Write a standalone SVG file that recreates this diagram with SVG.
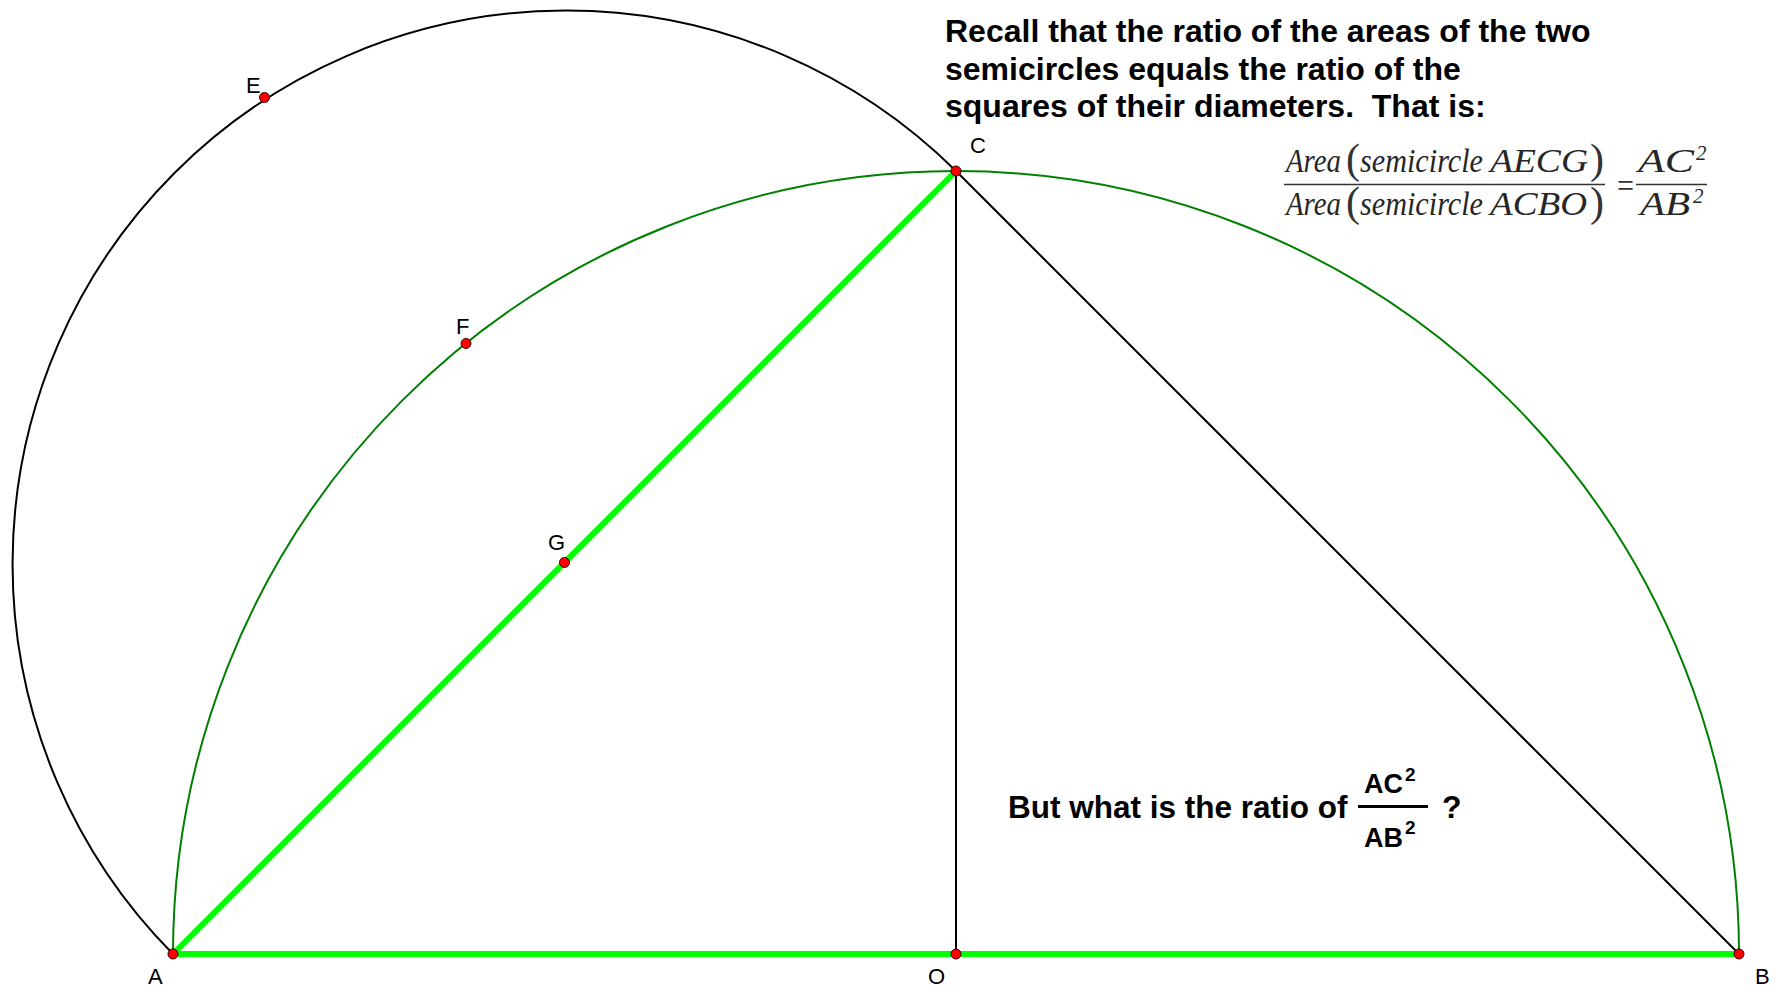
<svg xmlns="http://www.w3.org/2000/svg" width="1776" height="997" viewBox="0 0 1776 997">
<style>
.lbl{font-family:"Liberation Sans",Arial,sans-serif;font-size:22px;fill:#000}
.bold{font-family:"Liberation Sans",Arial,sans-serif;font-weight:bold;fill:#000}
.mth{font-family:"Liberation Serif","Times New Roman",serif;font-style:italic;fill:#262626}
.par{font-family:"Liberation Serif","Times New Roman",serif;fill:#333;font-size:42px}
.pt{fill:#ff0000;stroke:#3a0000;stroke-width:1}
.thin{fill:none;stroke:#000;stroke-width:2}
.garc{fill:none;stroke:#008000;stroke-width:2}
.thick{stroke:#00ff00;stroke-width:6;stroke-linecap:butt}
</style>
<rect width="1776" height="997" fill="#fff"/>
<g id="connectors">
<path id="arc-AECG" class="thin" d="M 173 954 A 553.67 553.67 0 0 1 956 171"/>
<path id="arc-ACBO" class="garc" d="M 173 954 A 783 783 0 0 1 1739 954"/>
<line id="CO" class="thin" x1="956" y1="171" x2="956" y2="954"/>
<line id="CB" class="thin" x1="956" y1="171" x2="1739" y2="954"/>
<line id="AC" class="thick" x1="173" y1="954" x2="956" y2="171"/>
<line id="AB" class="thick" x1="173" y1="954" x2="1739" y2="954"/>
</g>
<g id="node-A"><circle class="pt" cx="173" cy="954" r="5"/><text class="lbl" x="148" y="984">A</text></g>
<g id="node-B"><circle class="pt" cx="1739" cy="954" r="5"/><text class="lbl" x="1755" y="984">B</text></g>
<g id="node-C"><circle class="pt" cx="956" cy="171" r="5"/><text class="lbl" x="970" y="153">C</text></g>
<g id="node-O"><circle class="pt" cx="956" cy="954" r="5"/><text class="lbl" x="928" y="984">O</text></g>
<g id="node-E"><circle class="pt" cx="264.5" cy="97.5" r="5"/><text class="lbl" x="246" y="93">E</text></g>
<g id="node-F"><circle class="pt" cx="466" cy="343.5" r="5"/><text class="lbl" x="456" y="334">F</text></g>
<g id="node-G"><circle class="pt" cx="564.5" cy="562.5" r="5"/><text class="lbl" x="548" y="550">G</text></g>
<g id="text-recall">
<text class="bold" font-size="32" x="945" y="42">Recall that the ratio of the areas of the two</text>
<text class="bold" font-size="32" x="945" y="80">semicircles equals the ratio of the</text>
<text class="bold" font-size="32" x="945" y="117" xml:space="preserve">squares of their diameters.  That is:</text>
</g>
<g id="formula">
<text class="mth" font-size="33" x="1286" y="172" textLength="55" lengthAdjust="spacingAndGlyphs">Area</text>
<text class="par" x="1346" y="173">(</text>
<text class="mth" font-size="33" x="1360" y="172" textLength="123" lengthAdjust="spacingAndGlyphs">semicircle</text>
<text class="mth" font-size="33" x="1490" y="172" textLength="98" lengthAdjust="spacingAndGlyphs">AECG</text>
<text class="par" x="1590" y="173">)</text>
<line x1="1284" y1="184.5" x2="1605" y2="184.5" stroke="#333" stroke-width="1.6"/>
<text class="mth" font-size="33" x="1286" y="215" textLength="55" lengthAdjust="spacingAndGlyphs">Area</text>
<text class="par" x="1346" y="216">(</text>
<text class="mth" font-size="33" x="1360" y="215" textLength="123" lengthAdjust="spacingAndGlyphs">semicircle</text>
<text class="mth" font-size="33" x="1490" y="215" textLength="97" lengthAdjust="spacingAndGlyphs">ACBO</text>
<text class="par" x="1590" y="216">)</text>
<text class="par" x="1617" y="197" style="font-size:34px" textLength="17" lengthAdjust="spacingAndGlyphs">=</text>
<line x1="1636" y1="184.5" x2="1707" y2="184.5" stroke="#333" stroke-width="1.6"/>
<text class="mth" font-size="33" x="1638" y="172" textLength="56" lengthAdjust="spacingAndGlyphs">AC</text>
<text class="mth" font-size="21" x="1696" y="160">2</text>
<text class="mth" font-size="33" x="1640" y="215" textLength="50" lengthAdjust="spacingAndGlyphs">AB</text>
<text class="mth" font-size="21" x="1693" y="203">2</text>
</g>
<g id="text-question">
<text class="bold" font-size="31.5" x="1008" y="818">But what is the ratio of</text>
<text class="bold" font-size="27" x="1364" y="793">AC</text>
<text class="bold" font-size="19" x="1405" y="781">2</text>
<line x1="1358" y1="806.5" x2="1428" y2="806.5" stroke="#000" stroke-width="3"/>
<text class="bold" font-size="27" x="1364" y="847">AB</text>
<text class="bold" font-size="19" x="1405" y="834">2</text>
<text class="bold" font-size="32" x="1442" y="818">?</text>
</g>
</svg>
